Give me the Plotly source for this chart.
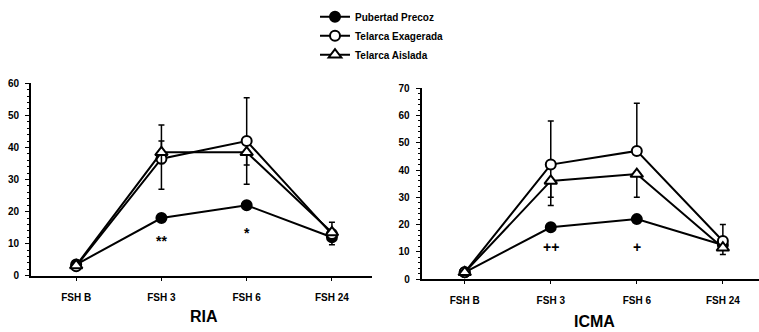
import plotly.graph_objects as go

categories = ["FSH B", "FSH 3", "FSH 6", "FSH 24"]
series_names = ["Pubertad Precoz", "Telarca Exagerada", "Telarca Aislada"]

# RIA panel
ria_precoz = [3.5, 18, 22, 12]
ria_exag = [3, 36.5, 42, 13]
ria_aisl = [3.2, 38.5, 38.5, 13.5]
ria_precoz_up = [0, 0, 0, 0]
ria_precoz_dn = [0, 0, 0, 2.3]
ria_exag_up = [0, 10.5, 13.5, 0]
ria_exag_dn = [0, 9.5, 13.5, 0]
ria_aisl_up = [0, 3.5, 0, 3.2]
ria_aisl_dn = [0, 3.5, 4, 0]

# ICMA panel
icma_precoz = [2.5, 19, 22, 12.5]
icma_exag = [2.5, 42, 47, 14]
icma_aisl = [2.5, 36, 38.5, 11.5]
icma_precoz_up = [0, 0, 0, 0]
icma_precoz_dn = [0, 0, 0, 3.5]
icma_exag_up = [0, 16, 17.5, 6]
icma_exag_dn = [0, 15, 0, 0]
icma_aisl_up = [0, 0, 0, 0]
icma_aisl_dn = [0, 6, 8.5, 0]

ria_marks = [("**", "FSH 3", 10.8), ("*", "FSH 6", 13.2)]
icma_marks = [("++", "FSH 3", 11.8), ("+", "FSH 6", 11.8)]

panel_titles = ["RIA", "ICMA"]

symbols = ["circle", "circle", "triangle-up"]
font_family = "Liberation Sans, Arial, sans-serif"

fig = go.Figure()

def add_panel(vals, ups, dns, xa, ya, show):
    for i, (v, u, d) in enumerate(zip(vals, ups, dns)):
        fill = "black" if i == 0 else "white"
        fig.add_trace(go.Scatter(
            x=categories, y=v, name=series_names[i], mode="lines+markers",
            xaxis=xa, yaxis=ya, showlegend=show,
            line=dict(color="black", width=2),
            marker=dict(symbol=symbols[i], size=10 if i < 2 else 11, color=fill,
                        line=dict(color="black", width=2)),
            error_y=dict(type="data", symmetric=False, array=u, arrayminus=d,
                         color="black", thickness=1.5, width=3),
        ))

add_panel([ria_precoz, ria_exag, ria_aisl],
          [ria_precoz_up, ria_exag_up, ria_aisl_up],
          [ria_precoz_dn, ria_exag_dn, ria_aisl_dn], "x", "y", True)
add_panel([icma_precoz, icma_exag, icma_aisl],
          [icma_precoz_up, icma_exag_up, icma_aisl_up],
          [icma_precoz_dn, icma_exag_dn, icma_aisl_dn], "x2", "y2", False)

for txt, cx, cy in ria_marks:
    fig.add_annotation(x=cx, y=cy, text=txt, xref="x", yref="y", showarrow=False,
                       font=dict(size=14, color="black", family=font_family, weight="bold"))
for txt, cx, cy in icma_marks:
    fig.add_annotation(x=cx, y=cy, text=txt, xref="x2", yref="y2", showarrow=False,
                       font=dict(size=14, color="black", family=font_family, weight="bold"))

# panel titles under the x axes
fig.add_annotation(x=204/759, y=(332-321)/332, xref="paper", yref="paper",
                   xanchor="center", yanchor="middle",
                   text=panel_titles[0], showarrow=False,
                   font=dict(size=16, color="black", family=font_family, weight="bold"))
fig.add_annotation(x=594/759, y=(332-326)/332, xref="paper", yref="paper",
                   xanchor="center", yanchor="middle",
                   text=panel_titles[1], showarrow=False,
                   font=dict(size=16, color="black", family=font_family, weight="bold"))

tickfont = dict(size=10, color="black", family=font_family, weight="bold")
xcommon = dict(type="category", showline=True, linecolor="black", linewidth=2,
               ticks="outside", ticklen=3, tickcolor="black", tickfont=tickfont,
               showgrid=False, zeroline=False, ticklabelstandoff=8)
ycommon = dict(showline=True, linecolor="black", linewidth=2, ticks="outside",
               ticklen=4, tickcolor="black", tickfont=tickfont, showgrid=False,
               zeroline=False, ticklabelstandoff=4,
               minor=dict(ticks="outside", ticklen=2, tickcolor="black", dtick=2))

fig.update_layout(
    width=759, height=332, margin=dict(l=0, r=0, t=0, b=0),
    paper_bgcolor="white", plot_bgcolor="white",
    font=dict(family=font_family, color="black"),
    xaxis=dict(domain=[31/759, 372/759], range=[-0.53, 3.47], anchor="y", **xcommon),
    yaxis=dict(domain=[(332-279)/332, (332-80)/332], range=[0, 60], dtick=10,
               anchor="x", **ycommon),
    xaxis2=dict(domain=[421.7/759, 1.0], range=[-0.5, 3.42], anchor="y2", **xcommon),
    yaxis2=dict(domain=[(332-282.5)/332, (332-85)/332], range=[0, 70], dtick=10,
                anchor="x2", **ycommon),
    legend=dict(x=315/759, y=1.012, xanchor="left", yanchor="top",
                font=dict(size=10, color="black", family=font_family, weight="bold"),
                bgcolor="rgba(0,0,0,0)", itemwidth=30, tracegroupgap=0),
)

fig.write_html("out.html")
